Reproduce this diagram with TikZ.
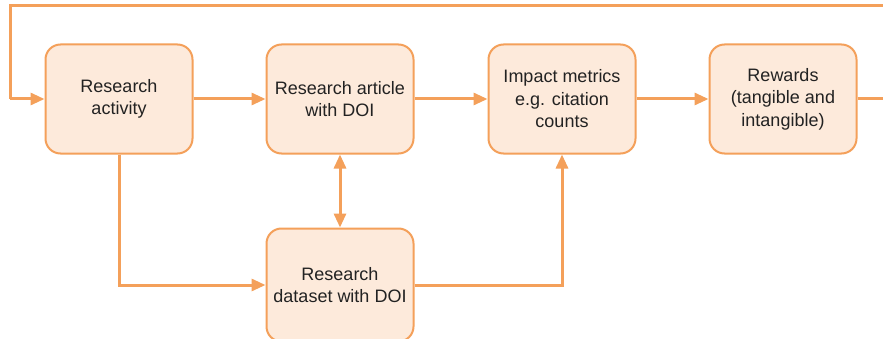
\documentclass[tikz,border=0pt]{standalone}
\usepackage{fontspec}
\setmainfont{Liberation Sans}
\usetikzlibrary{arrows.meta}
\definecolor{ostroke}{HTML}{F4A05A}
\definecolor{ofill}{HTML}{FDEADB}
\definecolor{txt}{HTML}{222222}
\begin{document}
\begin{tikzpicture}[x=1pt,y=1pt,
  box/.style={draw=ostroke, line width=2pt, fill=ofill, rounded corners=15pt,
    minimum width=147pt, minimum height=109pt, align=center, text=txt,
    font=\fontsize{18}{22.5}\selectfont, inner sep=0pt},
  conn/.style={draw=ostroke, line width=3pt},
  arr/.style={conn, -{Triangle[length=14pt,width=12pt]}},
  darr/.style={conn, {Triangle[length=14pt,width=12pt]}-{Triangle[length=14pt,width=12pt]}}]
\useasboundingbox (0,0) rectangle (883,338);
\fill[white] (0,0) rectangle (883,338);
\node[box] (act) at (119,239) {Research\\activity};
\node[box] (art) at (340,239) {Research article\\with DOI};
\node[box] (imp) at (562,239) {Impact metrics\\e.g. citation\\counts};
\node[box] (rew) at (783,239) {Rewards\\(tangible and\\intangible)};
\node[box, minimum height=113pt] (dat) at (340,53) {Research\\dataset with DOI};
\coordinate (r1) at (885,239);
\coordinate (r2) at (885,332);
\coordinate (l1) at (10,332);
\coordinate (l2) at (10,239);
\draw[arr] (act) -- (art);
\draw[arr] (art) -- (imp);
\draw[arr] (imp) -- (rew);
\draw[conn] (rew.east) -- (r1);
\draw[conn] (r2) -- (l1) -- (l2);
\draw[arr] (l2) -- (act.west);
\draw[arr] (act.south) |- (dat.west);
\draw[darr] (art.south) -- (dat.north);
\draw[arr] (dat.east) -| (imp.south);
\end{tikzpicture}
\end{document}
